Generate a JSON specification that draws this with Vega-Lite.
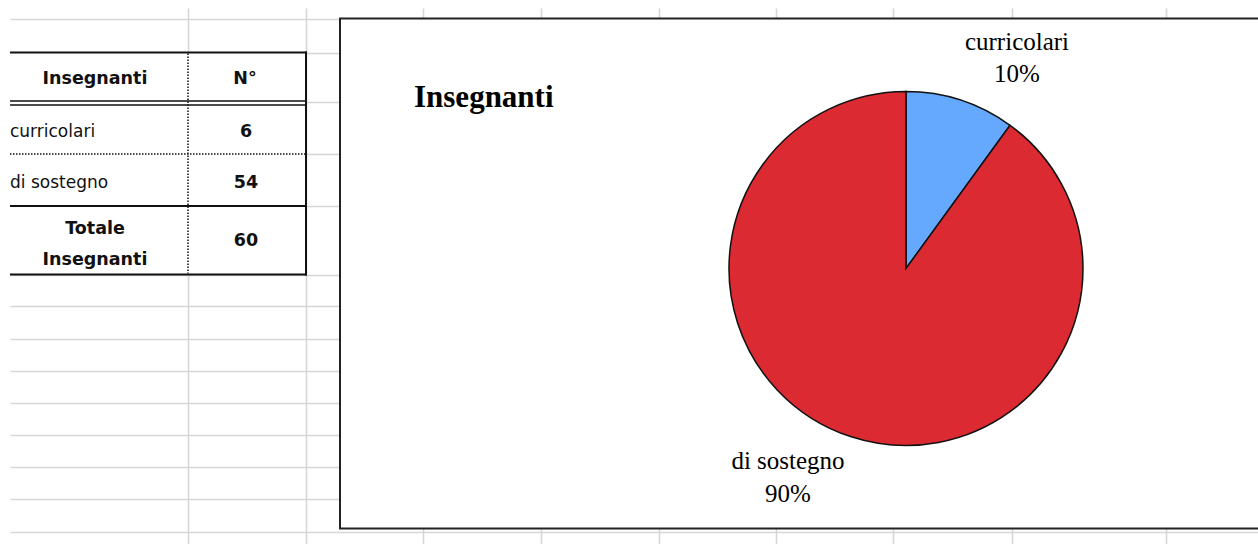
{
  "$schema": "https://vega.github.io/schema/vega-lite/v6.json",
  "width": 1248,
  "height": 536,
  "padding": {"left": 10, "top": 8, "right": 0, "bottom": 0},
  "autosize": {"type": "none"},
  "background": "white",
  "config": {"view": {"stroke": null}},
  "datasets": {
    "tabella": [
      {"voce": "curricolari", "n": 6},
      {"voce": "di sostegno", "n": 54},
      {"voce": "Totale Insegnanti", "n": 60}
    ],
    "torta": [
      {"voce": "curricolari", "n": 6, "quota": 0.1},
      {"voce": "di sostegno", "n": 54, "quota": 0.9}
    ]
  },
  "data": {"values": [{}]},
  "resolve": {"scale": {"x": "independent", "y": "independent"}},
  "layer": [
    {
      "mark": {"type": "point", "opacity": 0},
      "encoding": {
        "x": {"datum": 100, "type": "quantitative",
          "scale": {"domain": [10, 1258], "nice": false, "zero": false},
          "axis": {"values": [188, 306, 423, 541, 659, 776, 893, 1012, 1166], "grid": true, "gridColor": "#d6d6d6", "gridWidth": 1.6, "labels": false, "ticks": false, "domain": false, "title": null}},
        "y": {"datum": 100, "type": "quantitative",
          "scale": {"domain": [8, 544], "nice": false, "zero": false, "reverse": true},
          "axis": {"values": [18.5, 52.5, 102, 154, 206, 274.5, 306, 338.5, 370.7, 402.8, 435, 467, 499.3, 531.5], "grid": true, "gridColor": "#d6d6d6", "gridWidth": 1.6, "labels": false, "ticks": false, "domain": false, "title": null}}
      }
    },
    {
      "mark": {"type": "rect", "fill": "white", "stroke": "#222222", "strokeWidth": 2},
      "encoding": {"x": {"value": 330}, "x2": {"value": 1262}, "y": {"value": 10.5}, "y2": {"value": 520.5}}
    },
    {
      "mark": {"type": "rect", "fill": "white"},
      "encoding": {"x": {"value": 0}, "x2": {"value": 296}, "y": {"value": 44.5}, "y2": {"value": 266.5}}
    },
    {
      "mark": {"type": "rule", "stroke": "#111111", "strokeWidth": 2},
      "encoding": {"x": {"value": 0}, "x2": {"value": 297}, "y": {"value": 44.5}}
    },
    {
      "mark": {"type": "rule", "stroke": "#111111", "strokeWidth": 1.5},
      "encoding": {"x": {"value": 0}, "x2": {"value": 297}, "y": {"value": 93}}
    },
    {
      "mark": {"type": "rule", "stroke": "#111111", "strokeWidth": 1.5},
      "encoding": {"x": {"value": 0}, "x2": {"value": 297}, "y": {"value": 97}}
    },
    {
      "mark": {"type": "rule", "stroke": "#111111", "strokeWidth": 1.5, "strokeDash": [1.5, 1.5]},
      "encoding": {"x": {"value": 0}, "x2": {"value": 296}, "y": {"value": 146}}
    },
    {
      "mark": {"type": "rule", "stroke": "#111111", "strokeWidth": 2},
      "encoding": {"x": {"value": 0}, "x2": {"value": 297}, "y": {"value": 198}}
    },
    {
      "mark": {"type": "rule", "stroke": "#111111", "strokeWidth": 2},
      "encoding": {"x": {"value": 0}, "x2": {"value": 297}, "y": {"value": 266.5}}
    },
    {
      "mark": {"type": "rule", "stroke": "#111111", "strokeWidth": 2},
      "encoding": {"x": {"value": 296}, "y": {"value": 43.5}, "y2": {"value": 267.5}}
    },
    {
      "mark": {"type": "rule", "stroke": "#111111", "strokeWidth": 1.5, "strokeDash": [1.5, 1.5]},
      "encoding": {"x": {"value": 178}, "y": {"value": 45.5}, "y2": {"value": 265.5}}
    },
    {
      "mark": {"type": "text", "font": "DejaVu Sans", "fontSize": 17.5, "fontWeight": "bold", "align": "center", "baseline": "middle", "color": "#111111"},
      "encoding": {"x": {"value": 85}, "y": {"value": 71}, "text": {"value": "Insegnanti"}}
    },
    {
      "mark": {"type": "text", "font": "DejaVu Sans", "fontSize": 17.5, "fontWeight": "bold", "align": "center", "baseline": "middle", "color": "#111111"},
      "encoding": {"x": {"value": 235}, "y": {"value": 71}, "text": {"value": "N°"}}
    },
    {
      "data": {"name": "tabella"},
      "transform": [{"filter": "datum.voce != 'Totale Insegnanti'"}],
      "mark": {"type": "text", "font": "DejaVu Sans", "fontSize": 17, "align": "left", "baseline": "middle", "color": "#111111"},
      "encoding": {
        "x": {"value": 0},
        "y": {"field": "voce", "type": "nominal", "scale": {"domain": ["curricolari", "di sostegno"], "range": [124, 175], "padding": 0}, "axis": null},
        "text": {"field": "voce"}
      }
    },
    {
      "data": {"name": "tabella"},
      "transform": [{"filter": "datum.voce != 'Totale Insegnanti'"}],
      "mark": {"type": "text", "font": "DejaVu Sans", "fontSize": 17.5, "fontWeight": "bold", "align": "center", "baseline": "middle", "color": "#111111"},
      "encoding": {
        "x": {"value": 236},
        "y": {"field": "voce", "type": "nominal", "scale": {"domain": ["curricolari", "di sostegno"], "range": [124, 175], "padding": 0}, "axis": null},
        "text": {"field": "n", "type": "quantitative"}
      }
    },
    {
      "data": {"name": "tabella"},
      "transform": [{"filter": "datum.voce == 'Totale Insegnanti'"}],
      "mark": {"type": "text", "font": "DejaVu Sans", "fontSize": 17.5, "fontWeight": "bold", "align": "center", "baseline": "middle", "lineBreak": " ", "lineHeight": 31, "color": "#111111"},
      "encoding": {"x": {"value": 85}, "y": {"value": 221}, "text": {"field": "voce"}}
    },
    {
      "data": {"name": "tabella"},
      "transform": [{"filter": "datum.voce == 'Totale Insegnanti'"}],
      "mark": {"type": "text", "font": "DejaVu Sans", "fontSize": 17.5, "fontWeight": "bold", "align": "center", "baseline": "middle", "color": "#111111"},
      "encoding": {"x": {"value": 236}, "y": {"value": 233}, "text": {"field": "n", "type": "quantitative"}}
    },
    {
      "mark": {"type": "text", "font": "Liberation Serif", "fontSize": 31, "fontWeight": "bold", "align": "left", "baseline": "alphabetic", "color": "#000000"},
      "encoding": {"x": {"value": 404}, "y": {"value": 99}, "text": {"value": "Insegnanti"}}
    },
    {
      "data": {"name": "torta"},
      "mark": {"type": "arc", "outerRadius": 177, "stroke": "#111111", "strokeWidth": 1.5},
      "encoding": {
        "x": {"value": 896},
        "y": {"value": 260.5},
        "theta": {"field": "n", "type": "quantitative", "stack": true},
        "color": {"field": "voce", "type": "nominal", "scale": {"domain": ["curricolari", "di sostegno"], "range": ["#64a9fd", "#dc2a32"]}, "legend": null},
        "order": {"field": "voce", "sort": "ascending"}
      }
    },
    {
      "data": {"name": "torta"},
      "mark": {"type": "text", "font": "Liberation Serif", "fontSize": 25, "align": "center", "baseline": "alphabetic", "color": "#000000"},
      "encoding": {
        "x": {"field": "voce", "type": "nominal", "scale": {"domain": ["curricolari", "di sostegno"], "range": [1007, 778], "padding": 0}, "axis": null},
        "y": {"field": "voce", "type": "nominal", "scale": {"domain": ["curricolari", "di sostegno"], "range": [42, 461], "padding": 0}, "axis": null},
        "text": {"field": "voce"}
      }
    },
    {
      "data": {"name": "torta"},
      "mark": {"type": "text", "font": "Liberation Serif", "fontSize": 25, "align": "center", "baseline": "alphabetic", "color": "#000000"},
      "encoding": {
        "x": {"field": "voce", "type": "nominal", "scale": {"domain": ["curricolari", "di sostegno"], "range": [1007, 778], "padding": 0}, "axis": null},
        "y": {"field": "voce", "type": "nominal", "scale": {"domain": ["curricolari", "di sostegno"], "range": [74, 494], "padding": 0}, "axis": null},
        "text": {"field": "quota", "type": "quantitative", "format": ".0%"}
      }
    }
  ]
}
